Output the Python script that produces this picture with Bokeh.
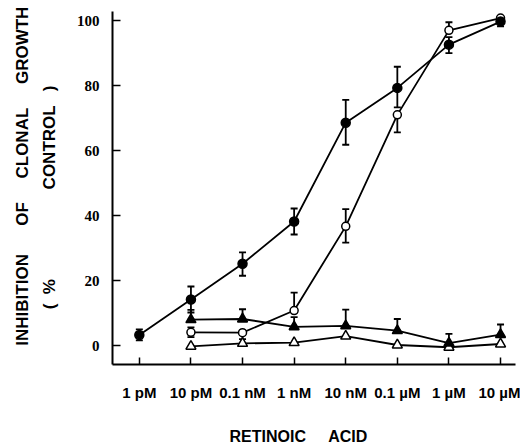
import numpy as np
from bokeh.plotting import figure
from bokeh.models import (ColumnDataSource, Range1d, FixedTicker, Whisker, TeeHead, LinearAxis)
from bokeh.embed import file_html
from bokeh.resources import INLINE

# ---- data ----
conc_labels = ["1 pM", "10 pM", "0.1 nM", "1 nM", "10 nM", "0.1 \u00b5M", "1 \u00b5M", "10 \u00b5M"]

fc_x = [0, 1, 2, 3, 4, 5, 6, 7]
fc_y = [3.3, 14.2, 25.2, 38.2, 68.6, 79.3, 92.6, 99.7]
fc_up = [1.7, 4.0, 3.5, 4.0, 7.0, 6.5, 2.3, 1.2]
fc_dn = [1.7, 4.0, 3.7, 4.0, 6.8, 6.0, 2.6, 1.5]

oc_x = [1, 2, 3, 4, 5, 6, 7]
oc_y = [4.1, 4.0, 10.8, 36.7, 71.0, 97.0, 100.8]
oc_up = [1.5, 0.0, 5.5, 5.3, 0.0, 2.5, 0.0]
oc_dn = [1.5, 2.0, 0.0, 5.0, 5.4, 0.0, 0.0]

ft_x = [1, 2, 3, 4, 5, 6, 7]
ft_y = [8.0, 8.2, 5.8, 6.1, 4.6, 0.8, 3.4]
ft_up = [3.0, 3.0, 3.0, 5.0, 3.6, 2.8, 3.1]
ft_dn = [0.0, 0.0, 0.0, 0.0, 0.0, 0.0, 0.0]

ot_x = [1, 2, 3, 4, 5, 6, 7]
ot_y = [-0.2, 0.7, 0.9, 2.9, 0.2, -0.5, 0.5]

y_ticks = [0, 20, 40, 60, 80, 100]

NB = "\u00a0"
y_title_1 = NB * 5 + "INHIBITION" + NB * 6 + "OF" + NB * 5 + "CLONAL" + NB * 5 + "GROWTH"
y_title_2 = "(" + NB * 2 + "%" + NB * 19 + "CONTROL" + NB * 3 + ")" + NB * 4
x_title = "RETINOIC" + NB * 5 + "ACID" + NB * 7

SANS = "'Liberation Sans'"
NARROW = "'Liberation Sans Narrow'"

W, H = 520, 447
p = figure(width=W, height=H, output_backend="svg", toolbar_location=None,
           x_range=Range1d(-0.52, 7.29), y_range=Range1d(-5.8, 102.8),
           min_border_left=112, min_border_right=5, min_border_top=11, min_border_bottom=83)
p.outline_line_color = None
p.xgrid.visible = False
p.ygrid.visible = False

# axes
p.xaxis.ticker = FixedTicker(ticks=list(range(len(conc_labels))))
p.xaxis.major_label_overrides = {i: l for i, l in enumerate(conc_labels)}
p.yaxis.ticker = FixedTicker(ticks=y_ticks)
for ax in (p.xaxis, p.yaxis):
    ax.axis_line_width = 2
    ax.axis_line_color = "black"
    ax.major_tick_line_width = 1.5
    ax.major_tick_line_color = "black"
    ax.major_tick_out = 0
    ax.minor_tick_line_color = None
    ax.major_label_text_color = "black"
    ax.axis_label_text_font = SANS
    ax.axis_label_text_font_style = "bold"
    ax.axis_label_text_color = "black"
p.xaxis.major_tick_in = 7
p.yaxis.major_tick_in = 8
p.xaxis.major_label_standoff = 19
p.yaxis.major_label_standoff = 13
p.xaxis.major_label_text_font = SANS
p.xaxis.major_label_text_font_style = "bold"
p.xaxis.major_label_text_font_size = "15px"
p.yaxis.major_label_text_font = NARROW
p.yaxis.major_label_text_font_style = "bold"
p.yaxis.major_label_text_font_size = "15px"

p.xaxis.axis_label = x_title
p.xaxis.axis_label_text_font_size = "16px"
p.xaxis.axis_label_standoff = 24

p.yaxis.axis_label = y_title_2
p.yaxis.axis_label_text_font_size = "17px"
p.yaxis.axis_label_standoff = 15

# outer (label-only) axis carrying the first line of the y title
ax2 = LinearAxis(ticker=FixedTicker(ticks=[]), axis_line_color=None,
                 major_tick_line_color=None, minor_tick_line_color=None,
                 major_tick_in=0, major_tick_out=0, minor_tick_in=0, minor_tick_out=0,
                 major_label_standoff=0,
                 axis_label=y_title_1, axis_label_standoff=5,
                 axis_label_text_font=SANS, axis_label_text_font_style="bold",
                 axis_label_text_font_size="17px", axis_label_text_color="black")
p.add_layout(ax2, "left")

def add_whisker(xs, ys, up, dn):
    src = ColumnDataSource(dict(x=xs, lo=[y - d for y, d in zip(ys, dn)], hi=[y + u for y, u in zip(ys, up)]))
    w = Whisker(source=src, base="x", upper="hi", lower="lo", dimension="height",
                line_color="black", line_width=1.8,
                upper_head=TeeHead(size=7, line_width=1.8, line_color="black"),
                lower_head=TeeHead(size=7, line_width=1.8, line_color="black"),
                level="underlay")
    p.add_layout(w)

add_whisker(fc_x, fc_y, fc_up, fc_dn)
add_whisker(oc_x, oc_y, oc_up, oc_dn)
add_whisker(ft_x, ft_y, ft_up, ft_dn)

lw = 1.8
p.line(ot_x, ot_y, line_color="black", line_width=lw)
p.line(ft_x, ft_y, line_color="black", line_width=lw)
p.line(oc_x, oc_y, line_color="black", line_width=lw)
p.line(fc_x, fc_y, line_color="black", line_width=lw)

p.scatter(ot_x, ot_y, marker="triangle", size=10, fill_color="white", line_color="black", line_width=1.5)
p.scatter(ft_x, ft_y, marker="triangle", size=10, fill_color="black", line_color="black", line_width=1.5)
p.scatter(oc_x, oc_y, marker="circle", size=8, fill_color="white", line_color="black", line_width=1.5)
p.scatter(fc_x, fc_y, marker="circle", size=9, fill_color="black", line_color="black", line_width=1.5)

open("out.html", "w").write(file_html(p, INLINE))
